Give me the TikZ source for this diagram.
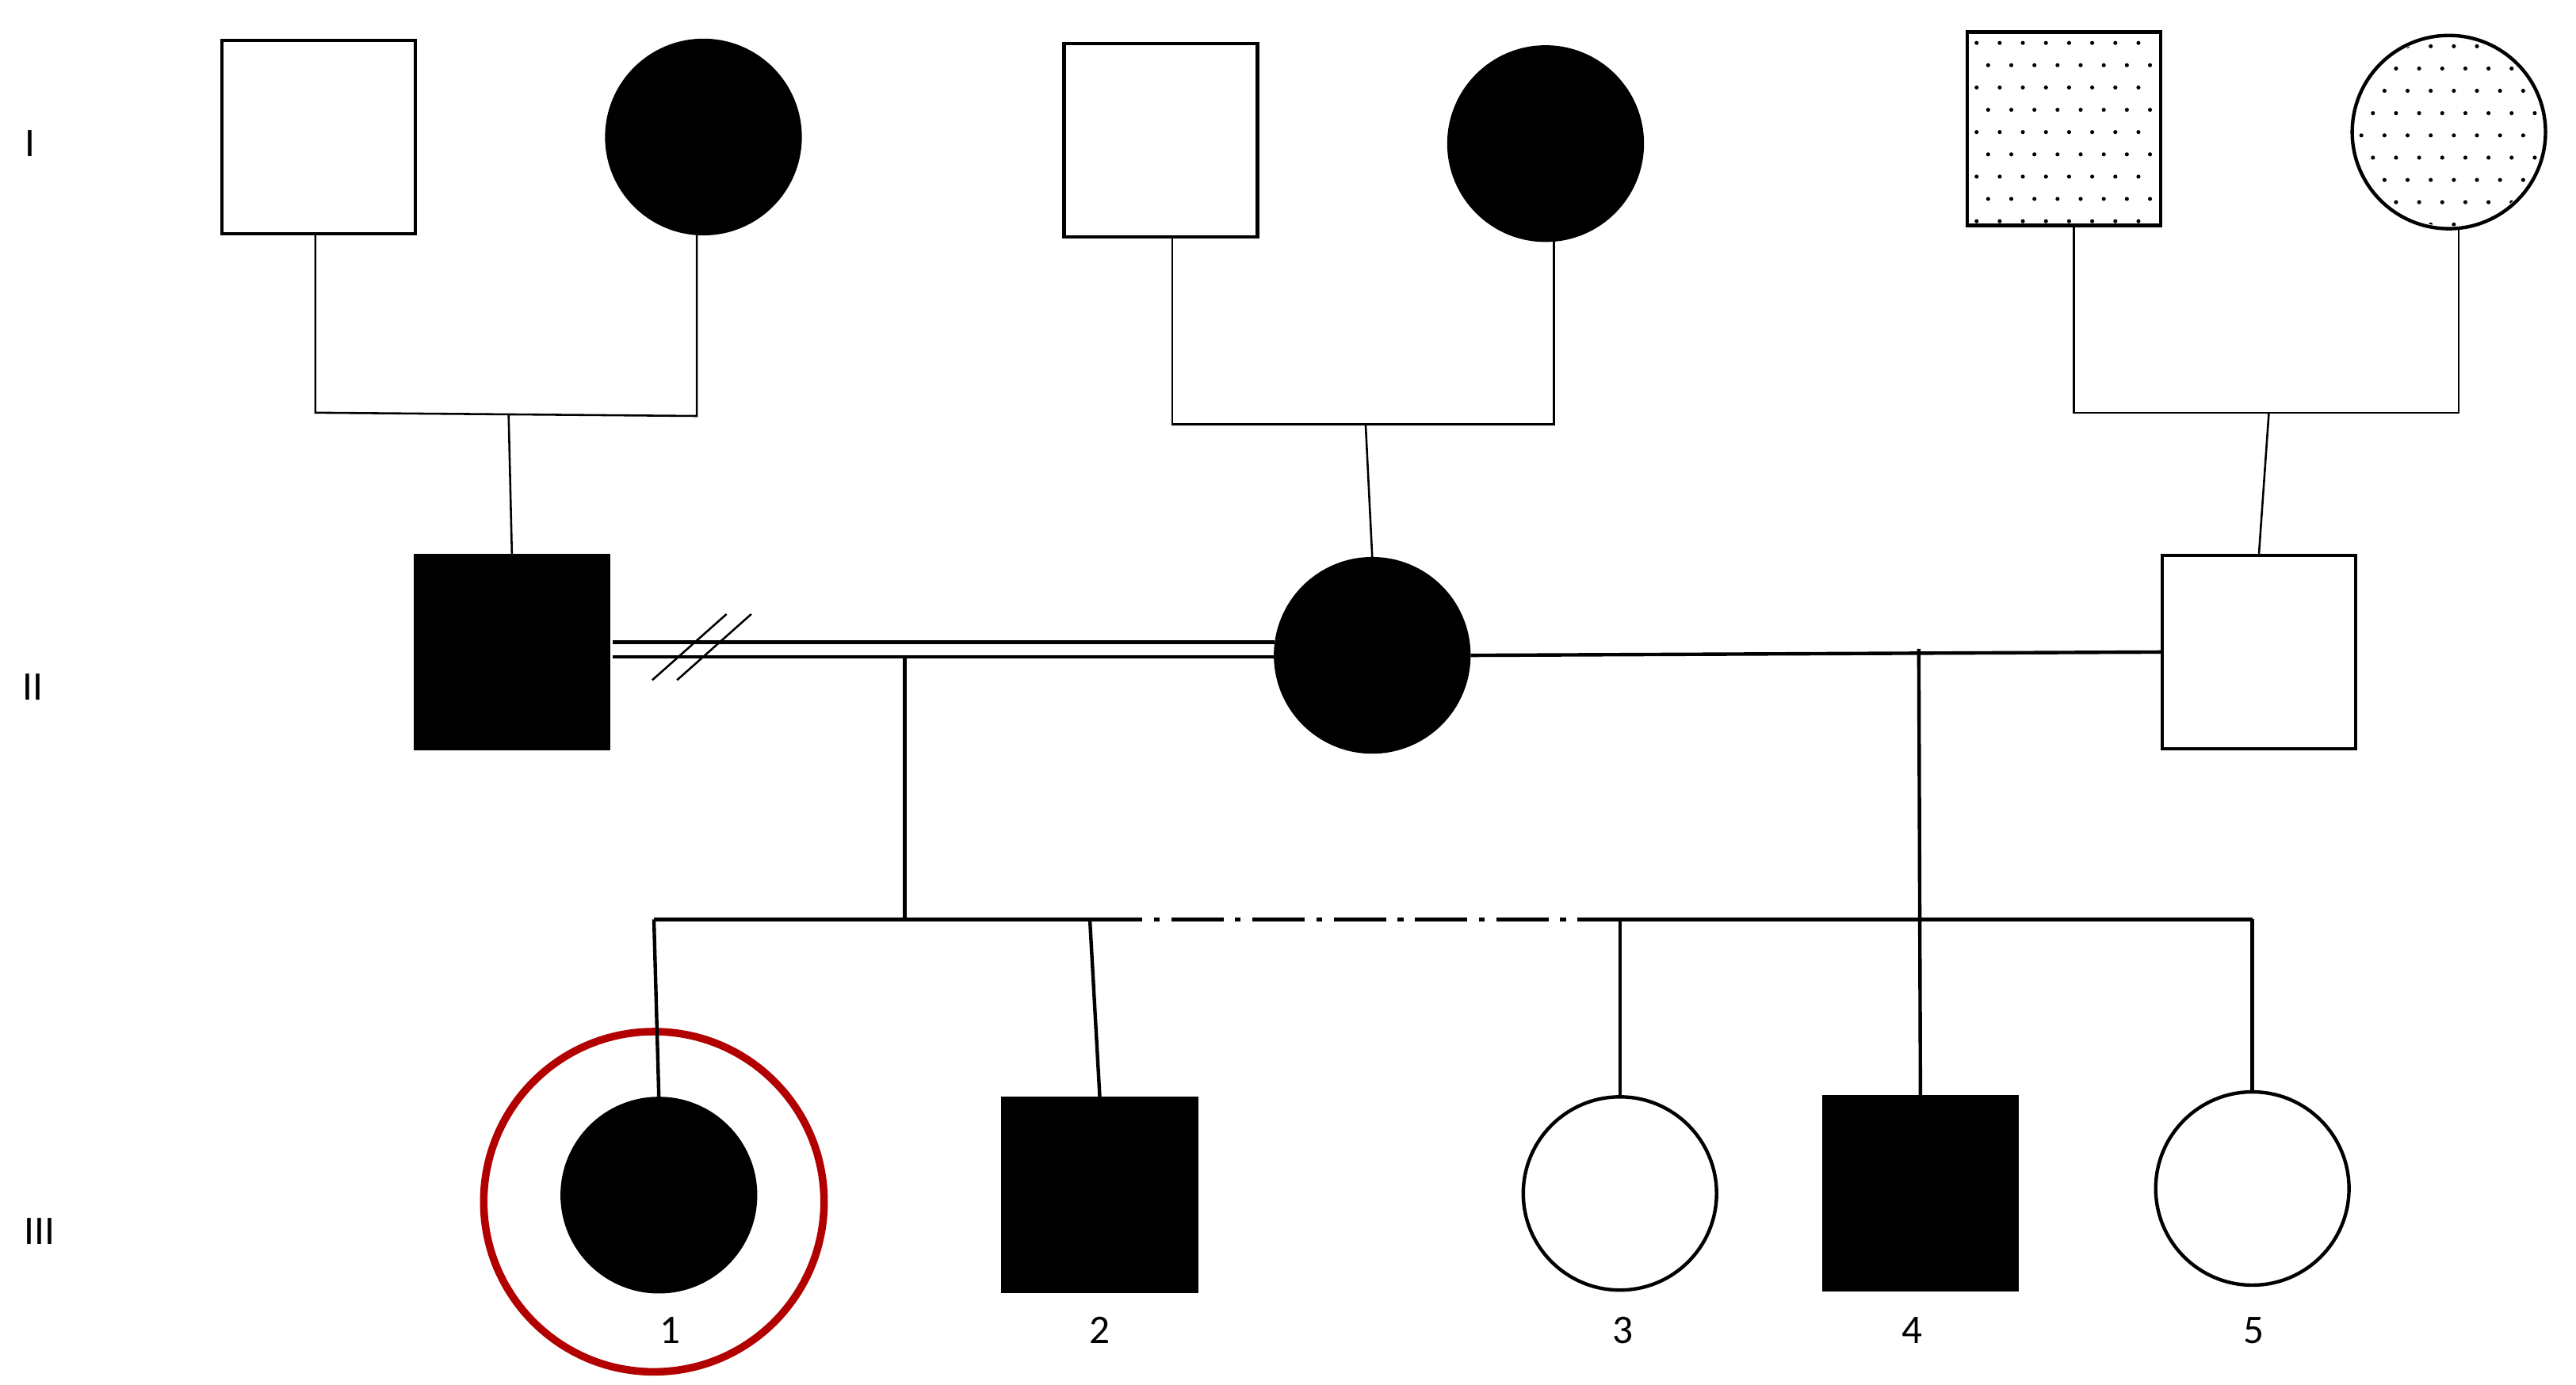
\documentclass[tikz,border=0pt]{standalone}
\usepackage{fontspec}
\setmainfont{Carlito}
\begin{document}
\begin{tikzpicture}[x=0.01cm,y=-0.01cm,
  sq/.style={draw,line width=0.6pt,minimum size=1.17cm,inner sep=0},
  ci/.style={draw,circle,line width=0.6pt,minimum size=1.17cm,inner sep=0},
  aff/.style={fill=black},
  ln/.style={line width=0.35pt},
  lb/.style={font=\fontsize{7}{8}\selectfont}]
\useasboundingbox (0,0) rectangle (1560,839);
% Generation I
\node[sq] (a1) at (193,83) {};
\node[ci,aff] (a2) at (426,83) {};
\node[sq] (b1) at (703,85) {};
\node[ci,aff] (b2) at (936,87) {};
\node[sq] (c1) at (1250,78) {};
\node[ci] (c2) at (1483,80) {};
% dots
\begin{scope}
\clip (1193,21) rectangle (1308,136);
\foreach \i in {0,...,8}{\foreach \j in {0,...,8}{
  \fill ({1197+\i*14+mod(\j,2)*7},{26+\j*13.5}) circle (0.35pt);}}
\end{scope}
\begin{scope}
\clip (1483,80) circle (57);
\foreach \i in {0,...,8}{\foreach \j in {0,...,8}{
  \fill ({1430+\i*14+mod(\j,2)*7},{28+\j*13.5}) circle (0.35pt);}}
\end{scope}
% Generation II
\node[sq,aff] (p1) at (310,395) {};
\node[ci,aff] (p2) at (831,397) {};
\node[sq] (p3) at (1368,395) {};
% Generation III
\node[ci,aff] (k1) at (399,724) {};
\node[draw=red!70!black,circle,line width=1.3pt,minimum size=2.06cm] (ring) at (396,728) {};
\node[sq,aff] (k2) at (666,724) {};
\node[ci] (k3) at (981,723) {};
\node[sq,aff] (k4) at (1163,723) {};
\node[ci] (k5) at (1364,720) {};
% parental lines gen I
\coordinate (ja) at (308,251); \coordinate (jb) at (827,257); \coordinate (jc) at (1374,250);
\draw[ln] (191,141) -- (191,250) -- (422,252) -- (422,142);
\draw[ln] (ja) -- (p1.north);
\draw[ln] (710,144) -- (710,257) -- (941,257) -- (941,146);
\draw[ln] (jb) -- (p2.north);
\draw[ln] (1256,137) -- (1256,250) -- (1489,250) -- (1489,138);
\draw[ln] (jc) -- (p3.north);
% consanguineous double line
\draw[line width=0.6pt] (371,389) -- (772,389);
\draw[line width=0.6pt] (371,398) -- (772,398);
\draw[ln] (395,412) -- (440,372);
\draw[ln] (410,412) -- (455,372);
\draw[line width=0.6pt] (p2.east) -- (p3.west);
% sibship
\coordinate (m1) at (548,398); \coordinate (s1) at (548,557);
\coordinate (m2) at (1162,393); \coordinate (s2) at (1162,557);
\draw[line width=0.6pt] (m1) -- (s1);
\draw[line width=0.6pt] (m2) -- (k4.north);
\draw[line width=0.6pt] (396,557) -- (660,557);
\draw[line width=0.6pt,dash pattern=on 9pt off 2pt on 1pt off 2pt] (660,557) -- (980,557);
\draw[line width=0.6pt] (980,557) -- (1364,557);
\draw[line width=0.6pt] (396,557) -- (k1.north);
\draw[line width=0.6pt] (660,557) -- (k2.north);
\draw[line width=0.6pt] (981,557) -- (k3.north);
\draw[line width=0.6pt] (1364,557) -- (k5.north);
% labels
\node[lb] (l1) at (406,806) {1};
\node[lb] (l2) at (666,806) {2};
\node[lb] (l3) at (983,806) {3};
\node[lb] (l4) at (1158,806) {4};
\node[lb] (l5) at (1365,806) {5};
\node[lb] (g1) at (18,87) {I};
\node[lb] (g2) at (20,416) {II};
\node[lb] (g3) at (24,746) {III};
\end{tikzpicture}
\end{document}
